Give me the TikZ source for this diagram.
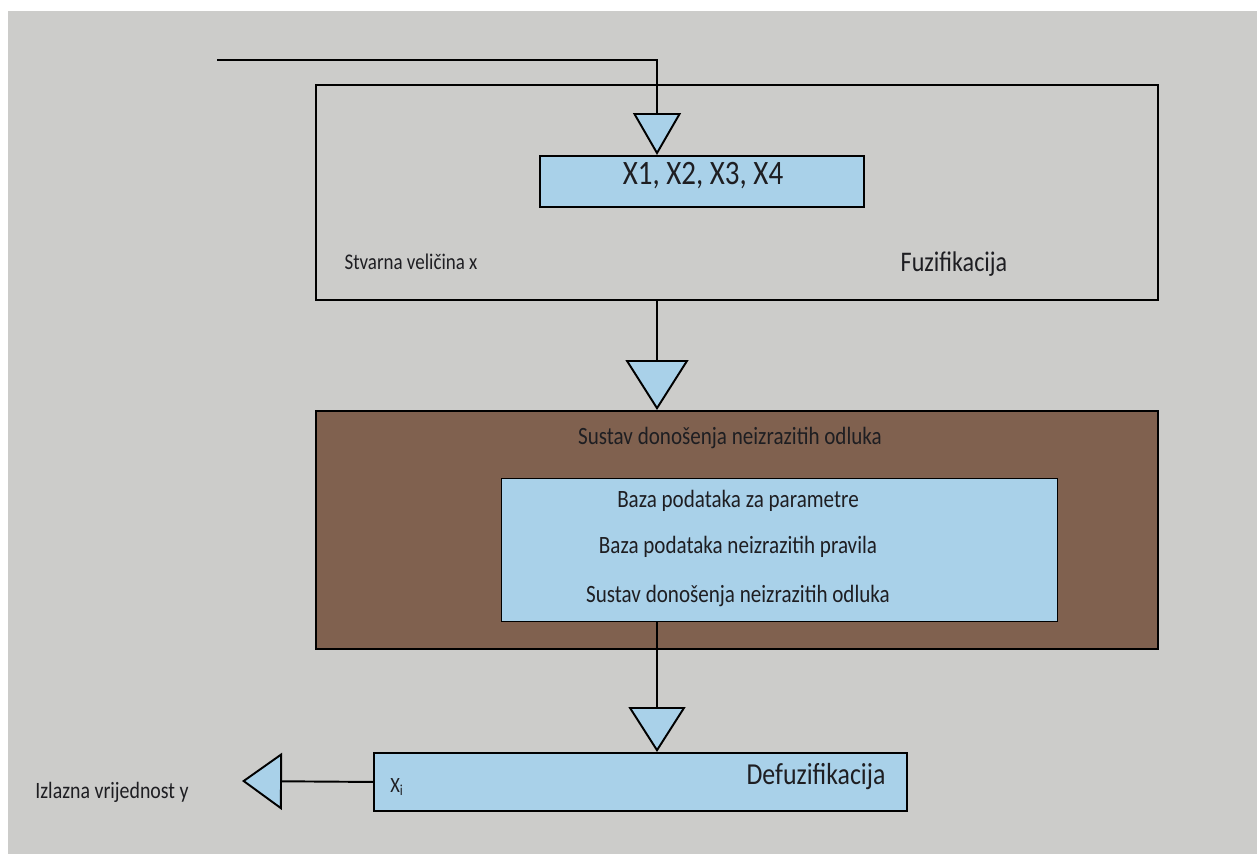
\documentclass[tikz,border=0pt]{standalone}
\usepackage{graphicx}
\usepackage{fontspec}
\setmainfont{Carlito}
\usetikzlibrary{arrows.meta}
\definecolor{pozadina}{HTML}{CCCCCA}
\definecolor{plava}{HTML}{A9D1E9}
\definecolor{smeda}{HTML}{80614F}
\definecolor{tekst}{HTML}{1E1E22}
\newcommand{\visoko}[1]{\scalebox{1}[1.18]{#1}}

\begin{document}
\begin{tikzpicture}
  [x=0.02cm,y=-0.02cm,
   okvir/.style={draw,line width=1.1pt,anchor=north west,inner sep=0pt},
   natpis/.style={text=tekst,inner sep=0pt,anchor=base,
     font=\fontsize{12}{14}\selectfont},
   veza/.style={line width=1.1pt,line join=miter},
   vrh/.style 2 args={-{Triangle[width=#1,length=#2,fill=plava]}}
  ]
  \useasboundingbox[fill=white] (0,0) rectangle (1257,854);
  \fill[pozadina] (8,11) rectangle (1257,854);

  % fuzifikacija
  \node[okvir,minimum width=16.84cm,minimum height=4.3cm] (fuz) at (315,84) {};
  \node[okvir,fill=plava,minimum width=6.48cm,minimum height=1.02cm] (xbox) at (539,155) {};
  \node[natpis,font=\fontsize{16.5}{18}\selectfont] (xlab) at (703,185) {\visoko{X1, X2, X3, X4}};
  \node[natpis,font=\fontsize{10.8}{13}\selectfont] (stvarna) at (411,270) {\visoko{Stvarna veličina x}};
  \node[natpis,font=\fontsize{13.7}{16}\selectfont] (fuzlab) at (954,272) {\visoko{Fuzifikacija}};

  % sustav odluka
  \node[okvir,fill=smeda,minimum width=16.84cm,minimum height=4.76cm] (sustav) at (315,410) {};
  \node[natpis] (sustavlab) at (730,445) {\visoko{Sustav donošenja neizrazitih odluka}};
  \node[okvir,fill=plava,line width=0.8pt,minimum width=11.12cm,minimum height=2.86cm] (baza) at (501,478) {};
  \node[natpis] (baza1) at (738,507) {\visoko{Baza podataka za parametre}};
  \node[natpis] (baza2) at (738,553) {\visoko{Baza podataka neizrazitih pravila}};
  \node[natpis] (baza3) at (738,602) {\visoko{Sustav donošenja neizrazitih odluka}};

  % defuzifikacija
  \node[okvir,fill=plava,minimum width=10.66cm,minimum height=1.16cm] (defuz) at (373,752) {};
  \node[natpis,anchor=base west,font=\fontsize{10.5}{12}\selectfont] (xi) at (390,792) {\visoko{X\textsubscript{i}}};
  \node[natpis,font=\fontsize{14.7}{17}\selectfont] (defuzlab) at (816,784) {\visoko{Defuzifikacija}};
  \node[natpis,font=\fontsize{11.3}{13}\selectfont] (izlazlab) at (112,798) {\visoko{Izlazna vrijednost y}};

  % veze
  \coordinate (os) at (657,0);
  \coordinate (ulaz) at (217,60);
  \coordinate (izlaz) at (242,781);
  \draw[veza,vrh={0.96cm}{0.84cm}] (ulaz) -| (xbox.north -| os);
  \draw[veza,vrh={1.26cm}{1.0cm}] (fuz.south -| os) -- (sustav.north -| os);
  \draw[veza,vrh={1.14cm}{0.9cm}] (baza.south -| os) -- (defuz.north -| os);
  \draw[veza,vrh={1.14cm}{0.8cm}] (defuz.west) -- (izlaz);
\end{tikzpicture}
\end{document}
